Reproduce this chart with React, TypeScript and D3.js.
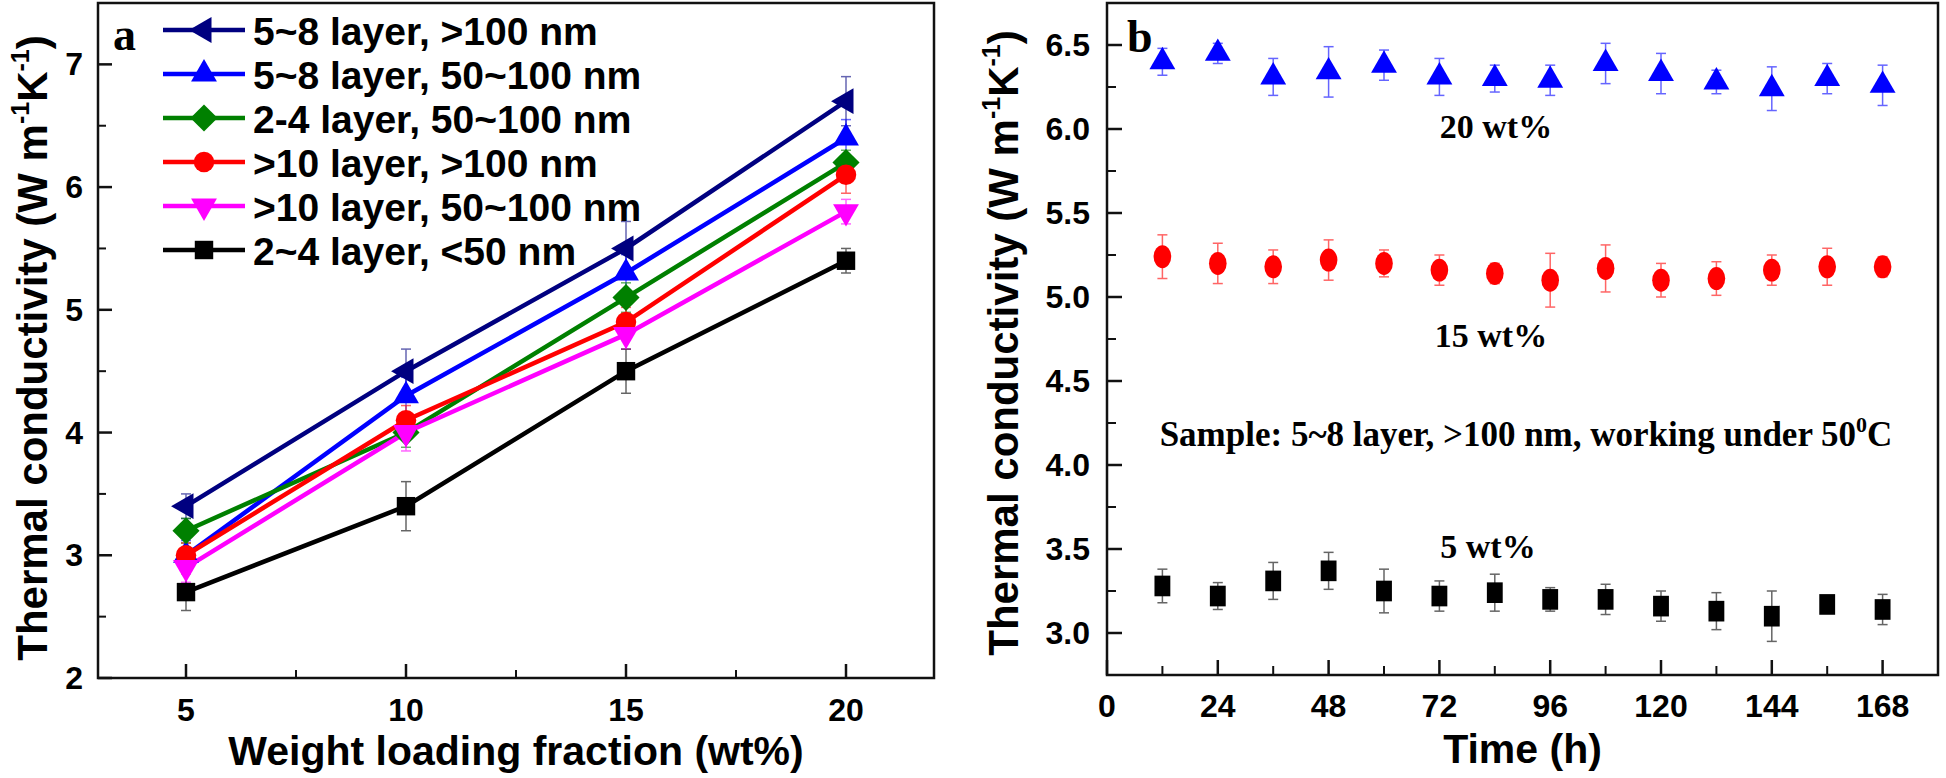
import React from 'react';
import * as d3 from 'd3';

const width = 1946;
const height = 778;
const sans = 'Arial, "Liberation Sans", sans-serif';
const serif = '"Times New Roman", "Liberation Serif", serif';

// panel a : conductivity vs loading
const loading = [5, 10, 15, 20];
const loadingMinor = [7.5, 12.5, 17.5];
const kTicksA = [2, 3, 4, 5, 6, 7];
const kMinorA = [2.5, 3.5, 4.5, 5.5, 6.5];

const layer58Big = [3.4, 4.5, 5.5, 6.7];
const layer58BigErr = [0.1, 0.18, 0.22, 0.2];
const layer58Mid = [3.0, 4.3, 5.3, 6.4];
const layer58MidErr = [0.12, 0.15, 0.15, 0.15];
const layer24Mid = [3.2, 4.0, 5.1, 6.2];
const layer24MidErr = [0.1, 0.12, 0.12, 0.1];
const layer10Big = [3.0, 4.1, 4.9, 6.1];
const layer10BigErr = [0.1, 0.12, 0.12, 0.15];
const layer10Mid = [2.9, 4.0, 4.8, 5.8];
const layer10MidErr = [0.12, 0.15, 0.12, 0.1];
const layer24Small = [2.7, 3.4, 4.5, 5.4];
const layer24SmallErr = [0.15, 0.2, 0.18, 0.1];

const legendNames = [
  '5~8 layer, >100 nm',
  '5~8 layer, 50~100 nm',
  '2-4 layer, 50~100 nm',
  '>10 layer, >100 nm',
  '>10 layer, 50~100 nm',
  '2~4 layer, <50 nm',
];

// panel b : stability over time
const hours = [12, 24, 36, 48, 60, 72, 84, 96, 108, 120, 132, 144, 156, 168];
const hourTicks = [0, 24, 48, 72, 96, 120, 144, 168];
const hourMinor = [12, 36, 60, 84, 108, 132, 156];
const kTicksB = [3.0, 3.5, 4.0, 4.5, 5.0, 5.5, 6.0, 6.5];
const kMinorB = [3.25, 3.75, 4.25, 4.75, 5.25, 5.75, 6.25];

const k20 = [6.40, 6.45, 6.31, 6.34, 6.38, 6.31, 6.30, 6.29, 6.39, 6.33, 6.28, 6.24, 6.30, 6.26];
const k20Err = [0.08, 0.06, 0.11, 0.15, 0.09, 0.11, 0.08, 0.09, 0.12, 0.12, 0.07, 0.13, 0.09, 0.12];
const k15 = [5.24, 5.20, 5.18, 5.22, 5.20, 5.16, 5.14, 5.10, 5.17, 5.10, 5.11, 5.16, 5.18, 5.18];
const k15Err = [0.13, 0.12, 0.10, 0.12, 0.08, 0.09, 0.06, 0.16, 0.14, 0.10, 0.10, 0.09, 0.11, 0.06];
const k5 = [3.28, 3.22, 3.31, 3.37, 3.25, 3.22, 3.24, 3.20, 3.20, 3.16, 3.13, 3.10, 3.17, 3.14];
const k5Err = [0.10, 0.08, 0.11, 0.11, 0.13, 0.09, 0.11, 0.07, 0.09, 0.09, 0.11, 0.15, 0.05, 0.09];

const navy = '#000080';
const blue = '#0000ff';
const green = '#008000';
const red = '#ff0000';
const magenta = '#ff00ff';
const black = '#000000';

const seriesA = [
  { values: layer58Big, err: layer58BigErr, color: navy, shape: 'left' },
  { values: layer58Mid, err: layer58MidErr, color: blue, shape: 'up' },
  { values: layer24Mid, err: layer24MidErr, color: green, shape: 'diamond' },
  { values: layer10Big, err: layer10BigErr, color: red, shape: 'circle' },
  { values: layer10Mid, err: layer10MidErr, color: magenta, shape: 'down' },
  { values: layer24Small, err: layer24SmallErr, color: black, shape: 'square' },
];

const seriesB = [
  { values: k20, err: k20Err, color: blue, shape: 'up' },
  { values: k15, err: k15Err, color: red, shape: 'circle' },
  { values: k5, err: k5Err, color: black, shape: 'square' },
];

const boxA = { left: 98, right: 934, top: 3, bottom: 678 };
const boxB = { left: 1107, right: 1938, top: 3, bottom: 675 };

const xA = d3.scaleLinear().domain([3, 22]).range([boxA.left, boxA.right]);
const yA = d3.scaleLinear().domain([2, 7.5]).range([boxA.bottom, boxA.top]);
const xB = d3.scaleLinear().domain([0, 180]).range([boxB.left, boxB.right]);
const yB = d3.scaleLinear().domain([2.75, 6.75]).range([boxB.bottom, boxB.top]);

const symbolPath = (shape: string) => {
  if (shape === 'circle') return d3.symbol(d3.symbolCircle, 330)();
  if (shape === 'square') return d3.symbol(d3.symbolSquare, 340)();
  if (shape === 'diamond') return d3.symbol(d3.symbolDiamond2, 470)();
  return d3.symbol(d3.symbolTriangle, 290)();
};
const rotation: Record<string, number> = { left: -90, down: 180 };

function Marker({ x, y, shape, color, sx = 1, sy = 1 }: any) {
  const rot = rotation[shape] || 0;
  return (
    <path
      d={symbolPath(shape) as string}
      fill={color}
      transform={`translate(${x},${y}) rotate(${rot}) scale(${rot ? sy : sx},${rot ? sx : sy})`}
    />
  );
}

function ErrorBar({ x, y0, y1, color }: any) {
  return (
    <g stroke={color} strokeWidth={1.5} opacity={0.6}>
      <line x1={x} x2={x} y1={y0} y2={y1} />
      <line x1={x - 5} x2={x + 5} y1={y0} y2={y0} />
      <line x1={x - 5} x2={x + 5} y1={y1} y2={y1} />
    </g>
  );
}

function Frame({ box }: any) {
  return (
    <rect x={box.left} y={box.top} width={box.right - box.left} height={box.bottom - box.top}
      fill="none" stroke="#111" strokeWidth={2.5} />
  );
}

function YTitle({ x, y }: any) {
  return (
    <text transform={`translate(${x},${y}) rotate(-90)`} textAnchor="middle" dominantBaseline="central"
      fontFamily={sans} fontWeight="bold" fontSize={42}>
      Thermal conductivity (W m<tspan dy={-12} fontSize={25}>-1</tspan>
      <tspan dy={12}>K</tspan><tspan dy={-12} fontSize={25}>-1</tspan><tspan dy={12}>)</tspan>
    </text>
  );
}

export default function App() {
  const lineA = d3.line<number>().x((_, i) => xA(loading[i])).y(d => yA(d));

  return (
    <svg width={width} height={height} style={{ position: 'absolute', left: 0, top: 0, background: '#fff' }}>
      {/* ---------- panel a ---------- */}
      <g>
        {/* ticks */}
        {loading.map(t => (
          <g key={'xa' + t}>
            <line x1={xA(t)} x2={xA(t)} y1={boxA.bottom} y2={boxA.bottom - 14} stroke="#111" strokeWidth={2.5} />
            <text x={xA(t)} y={710} textAnchor="middle" dominantBaseline="central"
              fontFamily={sans} fontWeight="bold" fontSize={32}>{t}</text>
          </g>
        ))}
        {loadingMinor.map(t => (
          <line key={'xam' + t} x1={xA(t)} x2={xA(t)} y1={boxA.bottom} y2={boxA.bottom - 8} stroke="#111" strokeWidth={2} />
        ))}
        {kTicksA.map(t => (
          <g key={'ya' + t}>
            <line x1={boxA.left} x2={boxA.left + 14} y1={yA(t)} y2={yA(t)} stroke="#111" strokeWidth={2.5} />
            <text x={83} y={yA(t)} textAnchor="end" dominantBaseline="central"
              fontFamily={sans} fontWeight="bold" fontSize={32}>{t}</text>
          </g>
        ))}
        {kMinorA.map(t => (
          <line key={'yam' + t} x1={boxA.left} x2={boxA.left + 8} y1={yA(t)} y2={yA(t)} stroke="#111" strokeWidth={2} />
        ))}

        {/* error bars */}
        {seriesA.map((s, si) => s.values.map((v, i) => (
          <ErrorBar key={`ea${si}-${i}`} x={xA(loading[i])} y0={yA(v + s.err[i])} y1={yA(v - s.err[i])} color={s.color} />
        )))}
        {/* lines */}
        {seriesA.map((s, si) => (
          <path key={'la' + si} d={lineA(s.values) as string} fill="none" stroke={s.color} strokeWidth={4.5} />
        ))}
        {/* markers */}
        {seriesA.map((s, si) => s.values.map((v, i) => (
          <Marker key={`ma${si}-${i}`} x={xA(loading[i])} y={yA(v)} shape={s.shape} color={s.color} />
        )))}

        {/* legend */}
        {seriesA.map((s, i) => {
          const ly = 30 + i * 44;
          return (
            <g key={'lg' + i}>
              <line x1={163} x2={245} y1={ly} y2={ly} stroke={s.color} strokeWidth={4.5} />
              <Marker x={204} y={ly} shape={s.shape} color={s.color} />
              <text x={253} y={ly + 1} dominantBaseline="central" fontFamily={sans} fontWeight="bold" fontSize={39}>
                {legendNames[i]}
              </text>
            </g>
          );
        })}

        <Frame box={boxA} />
        <text x={113} y={50} fontFamily={serif} fontWeight="bold" fontSize={46}>a</text>
        <YTitle x={32} y={348} />
        <text x={(boxA.left + boxA.right) / 2} y={765} textAnchor="middle" fontFamily={sans} fontWeight="bold" fontSize={41}>
          Weight loading fraction (wt%)
        </text>
      </g>

      {/* ---------- panel b ---------- */}
      <g>
        {hourTicks.map(t => (
          <g key={'xb' + t}>
            <line x1={xB(t)} x2={xB(t)} y1={boxB.bottom} y2={boxB.bottom - 15} stroke="#111" strokeWidth={2.5} />
            <text x={xB(t)} y={706} textAnchor="middle" dominantBaseline="central"
              fontFamily={sans} fontWeight="bold" fontSize={32}>{t}</text>
          </g>
        ))}
        {hourMinor.map(t => (
          <line key={'xbm' + t} x1={xB(t)} x2={xB(t)} y1={boxB.bottom} y2={boxB.bottom - 9} stroke="#111" strokeWidth={2} />
        ))}
        {kTicksB.map(t => (
          <g key={'yb' + t}>
            <line x1={boxB.left} x2={boxB.left + 15} y1={yB(t)} y2={yB(t)} stroke="#111" strokeWidth={2.5} />
            <text x={1090} y={yB(t)} textAnchor="end" dominantBaseline="central"
              fontFamily={sans} fontWeight="bold" fontSize={32}>{t.toFixed(1)}</text>
          </g>
        ))}
        {kMinorB.map(t => (
          <line key={'ybm' + t} x1={boxB.left} x2={boxB.left + 9} y1={yB(t)} y2={yB(t)} stroke="#111" strokeWidth={2} />
        ))}

        {seriesB.map((s, si) => s.values.map((v, i) => (
          <ErrorBar key={`eb${si}-${i}`} x={xB(hours[i])} y0={yB(v + s.err[i])} y1={yB(v - s.err[i])} color={s.color} />
        )))}
        {seriesB.map((s, si) => s.values.map((v, i) => (
          <Marker key={`mb${si}-${i}`} x={xB(hours[i])} y={yB(v)} shape={s.shape} color={s.color}
            sx={s.shape === 'up' ? 1 : 0.86} sy={s.shape === 'up' ? 1 : 1.12} />
        )))}

        <text x={1496} y={138} textAnchor="middle" fontFamily={serif} fontWeight="bold" fontSize={34}>20 wt%</text>
        <text x={1491} y={347} textAnchor="middle" fontFamily={serif} fontWeight="bold" fontSize={34}>15 wt%</text>
        <text x={1488} y={558} textAnchor="middle" fontFamily={serif} fontWeight="bold" fontSize={34}>5 wt%</text>
        <text x={1526} y={446} textAnchor="middle" fontFamily={serif} fontWeight="bold" fontSize={35}>
          Sample: 5~8 layer, &gt;100 nm, working under 50<tspan dy={-14} fontSize={22}>0</tspan><tspan dy={14}>C</tspan>
        </text>

        <Frame box={boxB} />
        <text x={1127} y={52} fontFamily={serif} fontWeight="bold" fontSize={46}>b</text>
        <YTitle x={1003} y={343} />
        <text x={(boxB.left + boxB.right) / 2} y={763} textAnchor="middle" fontFamily={sans} fontWeight="bold" fontSize={41}>
          Time (h)
        </text>
      </g>
    </svg>
  );
}
